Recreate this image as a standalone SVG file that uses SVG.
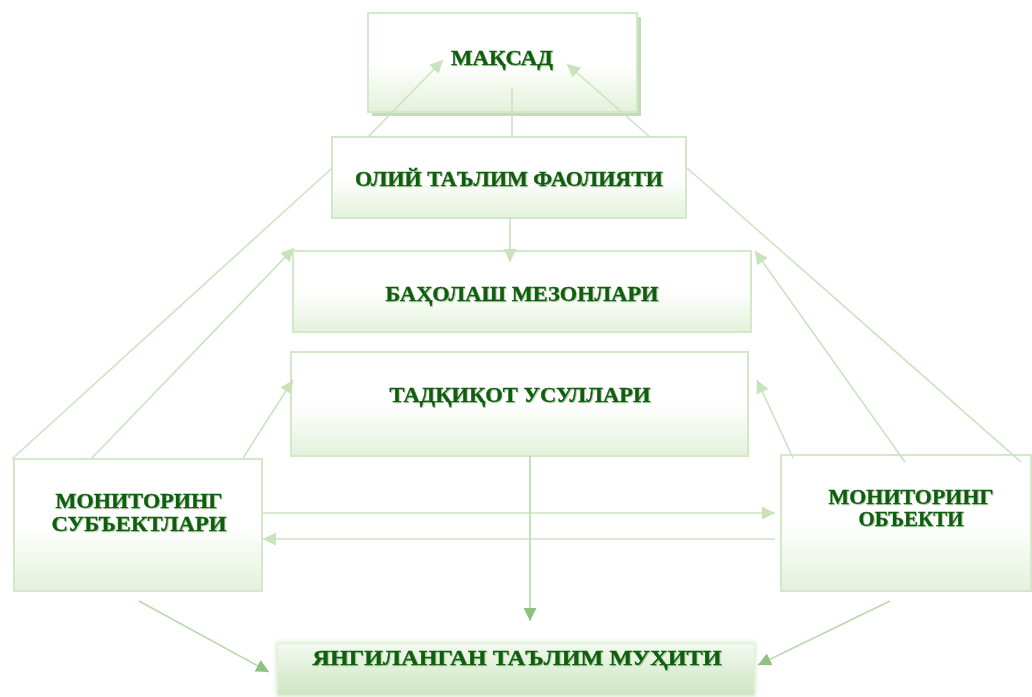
<svg xmlns="http://www.w3.org/2000/svg" width="1032" height="697" viewBox="0 0 1032 697">
<style>
.box{stroke:#d3e7c9;stroke-width:2;fill:url(#g1)}
.t{font-family:"Liberation Serif","Times New Roman",serif;font-weight:bold;fill:#0d5f0d;stroke:#0d5f0d;stroke-width:0.35;text-anchor:middle;font-size:21px}
.c{stroke:#cbe3bf;stroke-width:1.6;fill:none}
.ca{stroke:#cbe3bf;stroke-width:1.6;fill:none;marker-end:url(#ah)}
.cd{stroke:#b9d9ab;stroke-width:1.6;fill:none;marker-end:url(#ad)}
</style>
<defs>
<linearGradient id="g1" x1="0" y1="0" x2="0" y2="1">
<stop offset="0" stop-color="#ffffff"/>
<stop offset="0.5" stop-color="#ffffff"/>
<stop offset="1" stop-color="#e4f1db"/>
</linearGradient>
<linearGradient id="g2" x1="0" y1="0" x2="0" y2="1">
<stop offset="0" stop-color="#f3f9ef"/>
<stop offset="1" stop-color="#cde5c1"/>
</linearGradient>
<filter id="blur" x="-10%" y="-30%" width="120%" height="160%">
<feGaussianBlur stdDeviation="2"/>
</filter>
<filter id="ts" x="-5%" y="-20%" width="110%" height="140%">
<feDropShadow dx="1" dy="1" stdDeviation="0.6" flood-color="#7aa86e" flood-opacity="0.5"/>
</filter>
<marker id="ah" viewBox="0 0 10 10" refX="10" refY="5" markerWidth="14" markerHeight="13" markerUnits="userSpaceOnUse" orient="auto">
<path d="M0,0 L10,5 L0,10 z" fill="#c8e2bb"/>
</marker>
<marker id="ad" viewBox="0 0 10 10" refX="10" refY="5" markerWidth="13" markerHeight="13" markerUnits="userSpaceOnUse" orient="auto">
<path d="M0,0 L10,5 L0,10 z" fill="#8fc17f"/>
</marker>
</defs>

<g id="node-maqsad">
<rect x="372" y="17" width="269" height="99" fill="#c4dbb9"/>
<rect class="box" x="368" y="13" width="269" height="99"/>
<text class="t" x="502" y="65" filter="url(#ts)" textLength="102" lengthAdjust="spacingAndGlyphs">МАҚСАД</text>
</g>

<g id="node-oliy">
<rect class="box" x="332" y="137" width="354" height="81"/>
<text class="t" x="509" y="186" filter="url(#ts)" textLength="308" lengthAdjust="spacingAndGlyphs">ОЛИЙ ТАЪЛИМ ФАОЛИЯТИ</text>
</g>

<g id="node-baholash">
<rect class="box" x="293" y="251" width="458" height="81"/>
<text class="t" x="522" y="301" filter="url(#ts)" textLength="273" lengthAdjust="spacingAndGlyphs">БАҲОЛАШ МЕЗОНЛАРИ</text>
</g>

<g id="node-tadqiqot">
<rect class="box" x="291" y="352" width="457" height="104"/>
<text class="t" x="520" y="402" filter="url(#ts)" textLength="261" lengthAdjust="spacingAndGlyphs">ТАДҚИҚОТ УСУЛЛАРИ</text>
</g>

<g id="node-subyekt">
<rect class="box" x="14" y="459" width="248" height="132"/>
<text class="t" x="139" y="508" filter="url(#ts)" textLength="167" lengthAdjust="spacingAndGlyphs">МОНИТОРИНГ</text>
<text class="t" x="139" y="531" filter="url(#ts)" textLength="175" lengthAdjust="spacingAndGlyphs">СУБЪЕКТЛАРИ</text>
</g>

<g id="node-obyekt">
<rect class="box" x="781" y="455" width="250" height="136"/>
<text class="t" x="911" y="504" filter="url(#ts)" textLength="165" lengthAdjust="spacingAndGlyphs">МОНИТОРИНГ</text>
<text class="t" x="911" y="526" filter="url(#ts)" textLength="105" lengthAdjust="spacingAndGlyphs">ОБЪЕКТИ</text>
</g>

<g id="node-muhit">
<rect x="276" y="642" width="480" height="55" fill="#d8ebcf" filter="url(#blur)"/>
<rect x="278" y="644" width="476" height="51" fill="url(#g2)"/>
<text class="t" x="517" y="665" filter="url(#ts)" textLength="409" lengthAdjust="spacingAndGlyphs">ЯНГИЛАНГАН ТАЪЛИМ МУҲИТИ</text>
</g>

<g id="connectors">
<line class="c" x1="512" y1="88" x2="512" y2="137"/>
<line class="ca" x1="368" y1="137" x2="443" y2="60"/>
<line class="ca" x1="650" y1="137" x2="567" y2="64"/>
<line class="c" x1="331" y1="169" x2="12" y2="459"/>
<line class="c" x1="687" y1="168" x2="1021" y2="462"/>
<line class="ca" x1="510" y1="218" x2="510" y2="262"/>
<line class="ca" x1="92" y1="458" x2="294" y2="248"/>
<line class="ca" x1="243" y1="458" x2="293" y2="380"/>
<line class="ca" x1="905" y1="462" x2="755" y2="251"/>
<line class="ca" x1="793" y1="458" x2="757" y2="380"/>
<line class="ca" x1="263" y1="513" x2="775" y2="513"/>
<line class="ca" x1="775" y1="539" x2="263" y2="539"/>
<line class="cd" x1="530" y1="456" x2="530" y2="621"/>
<line class="cd" x1="139" y1="601" x2="269" y2="672"/>
<line class="cd" x1="890" y1="601" x2="758" y2="665"/>
</g>
</svg>
